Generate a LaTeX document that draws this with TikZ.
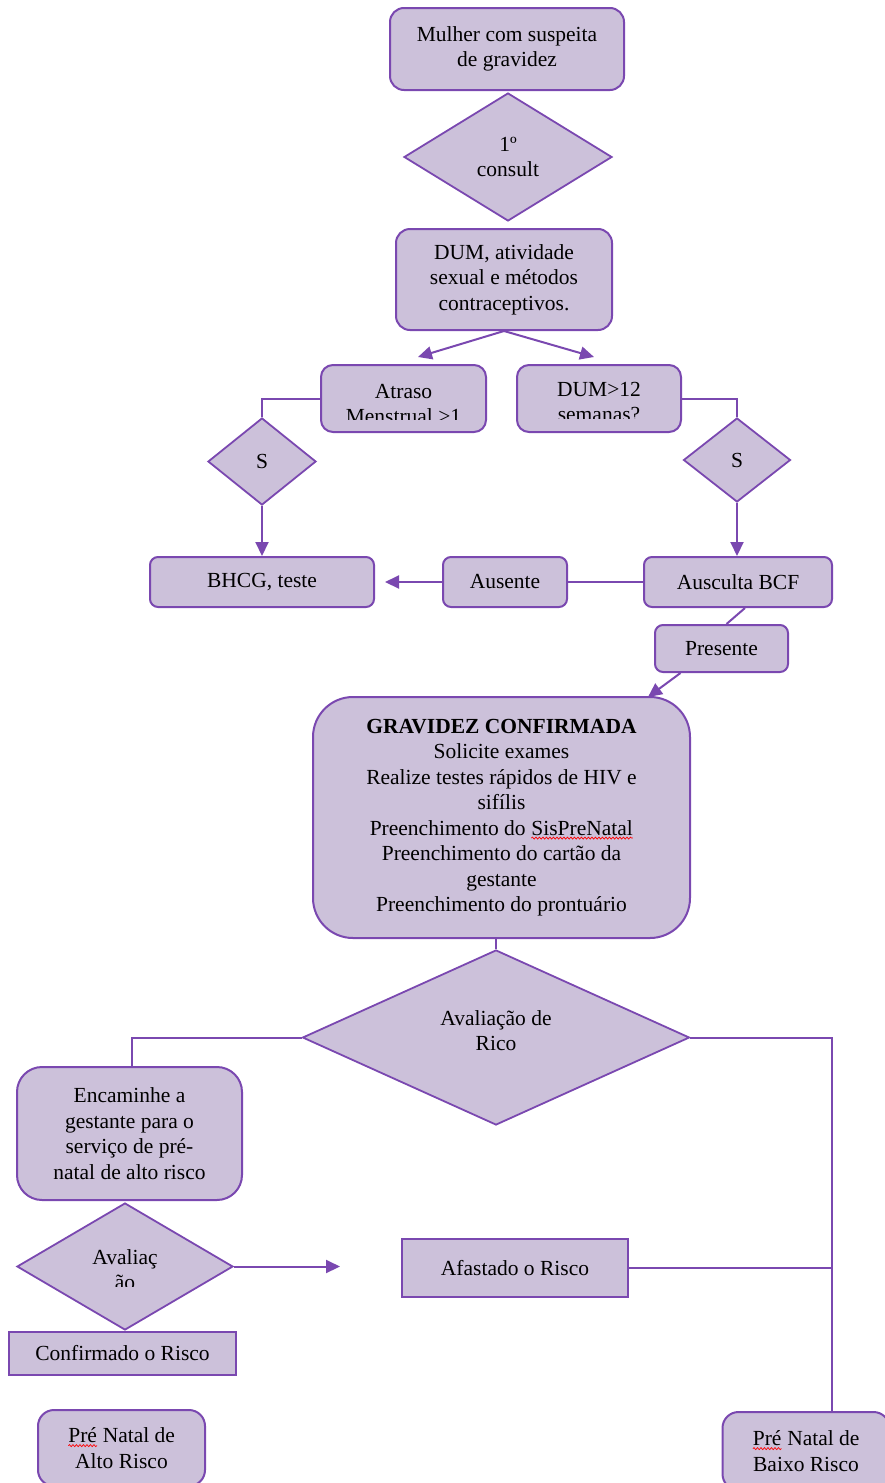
\documentclass[tikz,border=0pt]{standalone}
\usepackage{fontspec}
\setmainfont{Liberation Serif}
\usepackage{tikz}
\usetikzlibrary{shapes.geometric,arrows.meta,calc,decorations.pathmorphing}

\definecolor{boxfill}{HTML}{CCC1DA}
\definecolor{boxline}{HTML}{7A48B0}

\tikzset{
    flowtext/.style={font=\fontsize{21.5}{25.5}\selectfont, align=center},
    roundbox/.style={draw=boxline, fill=boxfill, line width=2pt, inner sep=0pt,
        flowtext, rounded corners=#1},
    roundbox/.default=12pt,
    flatbox/.style={draw=boxline, fill=boxfill, line width=2pt, inner sep=0pt, flowtext},
    choice/.style={diamond, draw=boxline, fill=boxfill, line width=1.8pt, inner sep=0pt, flowtext},
    cuttext/.style={flowtext, inner sep=0pt, anchor=north},
    plainword/.style={shape=rectangle, draw=none, fill=none, inner sep=0pt, outer sep=0pt,
        minimum width=0pt, minimum height=0pt},
    link/.style={draw=boxline, line width=2pt},
    linkarrow/.style={link, -{Triangle[length=14pt,width=13pt]}},
}

% red spell-check wave under a word
\newcommand{\redwave}[1]{\tikz[baseline=(wavew.base)]{\node[plainword] (wavew) {#1};
    \draw[red, line width=0.7pt, rounded corners=0pt, decorate,
        decoration={snake, amplitude=1pt, segment length=3.5pt}]
        ([yshift=-3pt]wavew.base west) -- ([yshift=-3pt]wavew.base east);}}

\begin{document}
\begin{tikzpicture}[x=1pt,y=-1pt]
    \useasboundingbox (0,0) rectangle (885,1483);

    % top of the flow
    \node[roundbox=14pt, minimum width=234pt, minimum height=82pt] (mulher) at (507,49)
        {Mulher com suspeita\\de gravidez};
    \node[choice, minimum width=208pt, minimum height=128pt] (consult) at (508,157)
        {1º\\consult};
    \node[roundbox=14pt, minimum width=216pt, minimum height=101pt] (dum) at (504,279.5)
        {DUM, atividade\\sexual e métodos\\contraceptivos.};

    \node[roundbox, minimum width=165pt, minimum height=67pt] (atraso) at (403.5,398.5) {};
    \node[roundbox, minimum width=164pt, minimum height=67pt] (semanas) at (599,398.5) {};
    \begin{scope}
        \clip (atraso.north west) rectangle ([yshift=14pt]atraso.south east);
        \node[cuttext] (atrasotxt) at ([yshift=-20pt]atraso.north) {Atraso\\Menstrual >1};
    \end{scope}
    \begin{scope}
        \clip (semanas.north west) rectangle ([yshift=15pt]semanas.south east);
        \node[cuttext] (semanastxt) at ([yshift=-18pt]semanas.north) {DUM>12\\semanas?};
    \end{scope}

    \node[choice, minimum width=108pt, minimum height=87pt] (sleft) at (262,461.5) {S};
    \node[choice, minimum width=107pt, minimum height=84pt] (sright) at (737,460) {S};

    \node[roundbox=8pt, minimum width=224pt, minimum height=50pt] (bhcg) at (262,582) {BHCG, teste};
    \node[roundbox=8pt, minimum width=124pt, minimum height=50pt] (ausente) at (505,582) {Ausente};
    \node[roundbox=8pt, minimum width=188pt, minimum height=50pt] (ausculta) at (738,582) {Ausculta BCF};
    \node[roundbox=8pt, minimum width=133pt, minimum height=47pt] (presente) at (721.5,648.5) {Presente};

    \node[roundbox=40pt, minimum width=377pt, minimum height=241pt] (gravidez) at (501.5,817.5)
        {\textbf{GRAVIDEZ CONFIRMADA}\\Solicite exames\\Realize testes rápidos de HIV e\\sifílis\\
         Preenchimento do \redwave{SisPreNatal}\\Preenchimento do cartão da\\gestante\\
         Preenchimento do prontuário};

    % risk evaluation
    \node[choice, minimum width=387pt, minimum height=175pt] (risco) at (496,1037.5) {};
    \node[cuttext] (riscotxt) at ([yshift=-61pt]risco.north) {Avaliação de\\Rico};
    \node[roundbox=25pt, minimum width=225pt, minimum height=133pt] (encaminhe) at (129.5,1133.5)
        {Encaminhe a\\gestante para o\\serviço de pré-\\natal de alto risco};
    \node[choice, minimum width=216pt, minimum height=127pt] (reaval) at (125,1266.5) {};
    \begin{scope}
        \clip (reaval.west |- reaval.north) rectangle ([yshift=44pt]reaval.east |- reaval.south);
        \node[cuttext] (reavaltxt) at ([yshift=-47pt]reaval.north) {Avaliaç\\ão};
    \end{scope}
    \node[flatbox, minimum width=226pt, minimum height=58pt] (afastado) at (515,1268) {Afastado o Risco};
    \node[flatbox, minimum width=227pt, minimum height=43pt] (confirmado) at (122.5,1353.5) {Confirmado o Risco};
    \node[roundbox=16pt, minimum width=167pt, minimum height=76pt] (altorisco) at (121.5,1448)
        {\redwave{Pré} Natal de\\Alto Risco};
    \node[roundbox=16pt, minimum width=167pt, minimum height=78pt] (baixorisco) at (806,1451)
        {\redwave{Pré} Natal de\\Baixo Risco};

    % connectors
    \coordinate (toatraso) at (418,357);
    \coordinate (tosemanas) at (594,357);
    \coordinate (togravidez) at (648,697);
    \coordinate (toafastado) at (340,1266.5);
    \coordinate (baixoline) at ([xshift=26pt]baixorisco.north);

    \draw[linkarrow] (dum.south) -- (toatraso);
    \draw[linkarrow] (dum.south) -- (tosemanas);
    \draw[link] (atraso.west) -| (sleft.north);
    \draw[linkarrow] (sleft.south) -- (bhcg.north);
    \draw[link] (semanas.east) -| (sright.north);
    \draw[linkarrow] (sright.south) -- (sright.south |- ausculta.north);
    \draw[link] (ausculta.west) -- (ausente.east);
    \draw[linkarrow, shorten >=10pt] (ausente.west) -- (bhcg.east);
    \draw[link] ([xshift=7pt]ausculta.south) -- ([xshift=5pt]presente.north);
    \draw[linkarrow] ([xshift=-41pt]presente.south) -- (togravidez);
    \draw[link] (gravidez.south -| risco.north) -- (risco.north);
    \draw[link] (risco.west) -| ([xshift=2.5pt]encaminhe.north);
    \draw[link] (risco.east) -| (baixoline);
    \draw[linkarrow] (reaval.east) -- (toafastado);
    \draw[link] (afastado.east) -- (afastado.east -| baixoline);
\end{tikzpicture}
\end{document}
